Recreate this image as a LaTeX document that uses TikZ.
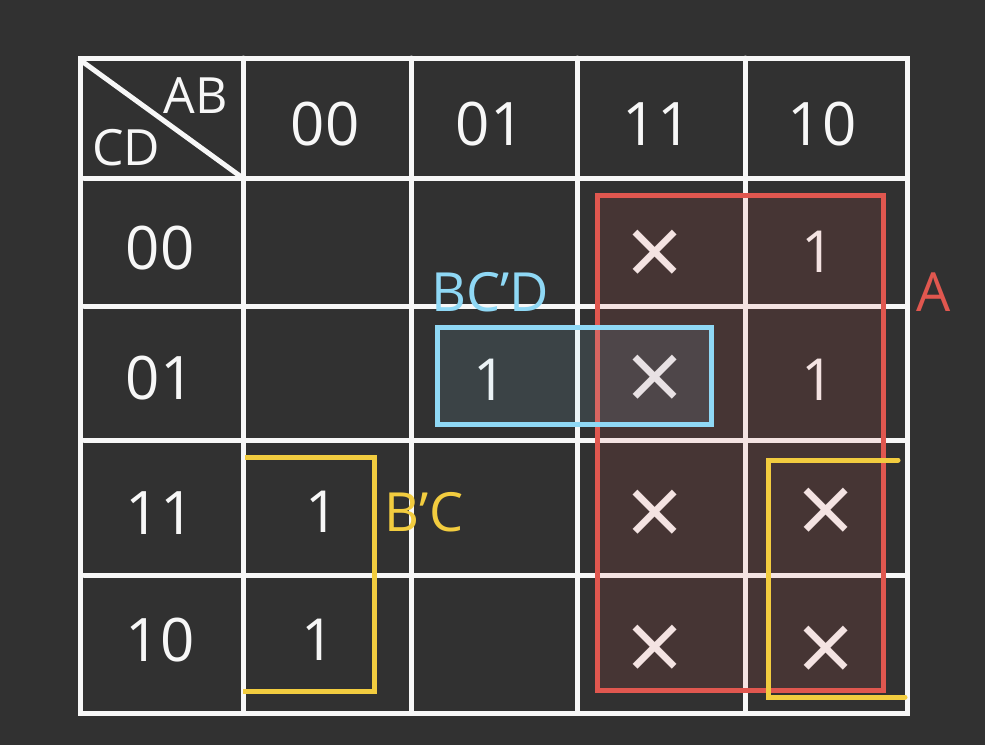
\documentclass[tikz,border=0pt]{standalone}
\usepackage{fontspec}
\setmainfont{Open Sans}
\usetikzlibrary{calc}
\definecolor{board}{HTML}{313131}
\definecolor{chalk}{HTML}{F7F7F7}
\definecolor{grpred}{HTML}{E0574F}
\definecolor{grpblue}{HTML}{8FD8F5}
\definecolor{grpyellow}{HTML}{F2CC3F}
\tikzset{
  head/.style={chalk, font=\fontsize{60}{66}\selectfont, inner sep=0pt},
  corner/.style={chalk, font=\fontsize{50}{56}\selectfont, inner sep=0pt},
  oneval/.style={chalk, font=\fontsize{58}{64}\selectfont, inner sep=0pt},
  dcval/.style={chalk, font=\fontsize{100}{106}\selectfont, inner sep=0pt, yshift=-7pt},
  grplabel/.style={font=\fontsize{54}{60}\selectfont, inner sep=0pt},
}
\begin{document}
\begin{tikzpicture}[x=1pt,y=-1pt]
    \fill [board] (0,0) rectangle (985,745);
    \useasboundingbox (0,0) rectangle (985,745);
    \begin{scope}[line width=5pt,chalk,line cap=round]
    % Grid:
    \draw (80,58) rectangle (907,713);
    \foreach \x in {243,411,577,745} {%
        \draw (\x,58) -- (\x,713);
    }
    \foreach \y in {178,306,440,575} {%
        \draw (84,\y) -- (907,\y);
    }
    % Corner cell
    \draw (83,62) -- (240,176);
    \end{scope}

    % Headers:
    \node [corner] (ab) at (196,96) {AB};
    \node [corner] (cd) at (126,148) {CD};
    \foreach \lbl/\x [count=\i] in {00/325,01/490,11/657,10/822}{%
        \node [head] (col\i) at (\x,124) {\lbl};
    }
    \foreach \lbl/\y [count=\i] in {00/248,01/378,11/513,10/640}{%
        \node [head] (row\i) at (160,\y) {\lbl};
    }

    % Cell values:
    \node [dcval]  (c13) at (655,252) {×};
    \node [oneval] (c14) at (818,252) {1};
    \node [oneval] (c22) at (490,380) {1};
    \node [dcval]  (c23) at (655,377) {×};
    \node [oneval] (c24) at (818,380) {1};
    \node [oneval] (c31) at (322,512) {1};
    \node [dcval]  (c33) at (655,512) {×};
    \node [dcval]  (c34) at (826,510) {×};
    \node [oneval] (c41) at (318,640) {1};
    \node [dcval]  (c43) at (655,647) {×};
    \node [dcval]  (c44) at (826,648) {×};

    % Groups:
    \begin{scope}[line width=5pt]
    \filldraw [draw=grpred, fill=grpred, fill opacity=0.12] (597,195) rectangle (883,690);
    \filldraw [draw=grpblue, fill=grpblue, fill opacity=0.11] (437,327) rectangle (711,424);
    \draw [grpyellow] (245,457) -- (374,457) -- (374,691) -- (243,691);
    \draw [grpyellow, line cap=round] (898,460) -- (768,460) -- (768,697) -- (905,697);
    \end{scope}
    \node [grplabel, grpred] (lblA) at (934,292) {A};
    \node [grplabel, grpblue] (lblBCD) at (490,292) {BC'D};
    \node [grplabel, grpyellow] (lblBC) at (424,512) {B'C};
\end{tikzpicture}
\end{document}
